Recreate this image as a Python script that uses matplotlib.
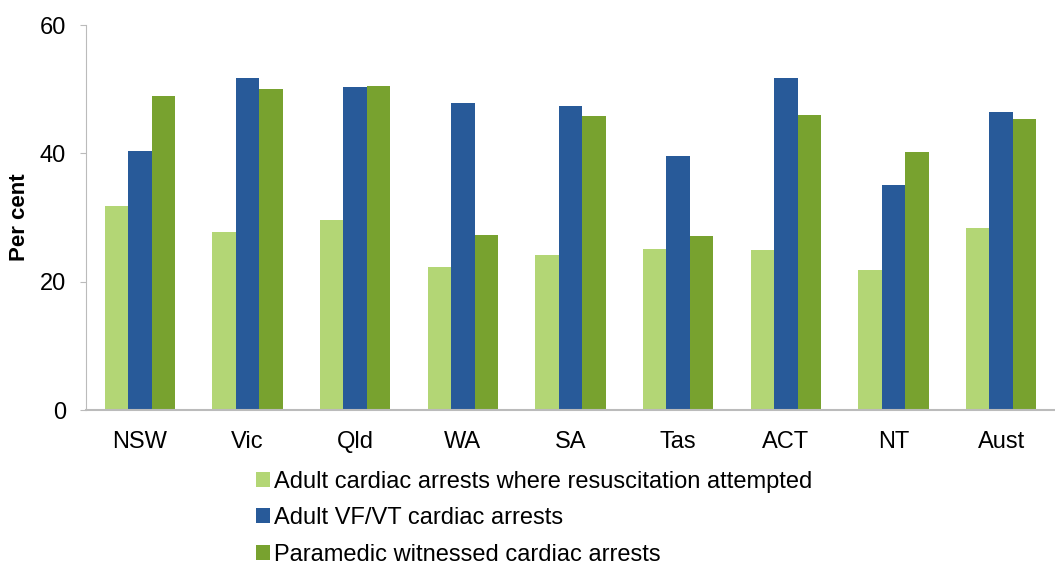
import numpy as np
import matplotlib.pyplot as plt
from matplotlib.patches import Patch

# --------------------------------------------------
# Data
# --------------------------------------------------

states = ["NSW", "Vic", "Qld", "WA", "SA", "Tas", "ACT", "NT", "Aust"]

resus_attempted = [31.8, 27.7, 29.6, 22.3, 24.2, 25.1, 24.9, 21.8, 28.3]
vf_vt = [40.4, 51.8, 50.3, 47.8, 47.4, 39.6, 51.8, 35.0, 46.4]
paramedic_witnessed = [48.9, 50.1, 50.5, 27.3, 45.8, 27.1, 46.0, 40.2, 45.4]

series_names = [
    "Adult cardiac arrests where resuscitation attempted",
    "Adult VF/VT cardiac arrests",
    "Paramedic witnessed cardiac arrests",
]
colors = ["#B3D675", "#285A99", "#78A22F"]

# --------------------------------------------------
# Plot
# --------------------------------------------------

plt.rcParams["font.family"] = ["Liberation Sans", "DejaVu Sans"]

fig = plt.figure(figsize=(10.55, 5.66), dpi=100)
ax = fig.add_axes([0.0815, 0.2756, 0.9185, 0.6802])

x = np.arange(len(states))
width = 0.218

for i, vals in enumerate([resus_attempted, vf_vt, paramedic_witnessed]):
    ax.bar(x + (i - 1) * width, vals, width, color=colors[i],
           label=series_names[i], zorder=2)

ax.set_xlim(-0.5, len(states) - 0.5)
ax.set_ylim(0, 60)
ax.set_yticks([0, 20, 40, 60])
ax.set_xticks(x)
ax.set_xticklabels(states)

ax.tick_params(axis="y", labelsize=17, length=4.3, color="#BBBBBB", pad=10)
ax.tick_params(axis="x", labelsize=17, length=0, pad=15)

for side in ["top", "right"]:
    ax.spines[side].set_visible(False)
ax.spines["left"].set_color("#BBBBBB")
ax.spines["bottom"].set_color("#BBBBBB")
ax.spines["bottom"].set_linewidth(1.5)

ax.set_ylabel("Per cent", fontsize=16, fontweight="bold", labelpad=7)

handles = [Patch(facecolor=c, edgecolor="none") for c in colors]
fig.legend(
    handles, series_names,
    loc="upper left",
    bbox_to_anchor=(0.2427, 0.1685),
    frameon=False,
    fontsize=17,
    handlelength=0.6,
    handleheight=0.6,
    handletextpad=0.15,
    labelspacing=0.62,
    borderpad=0,
    borderaxespad=0,
)

fig.savefig("out.png", dpi=100)
